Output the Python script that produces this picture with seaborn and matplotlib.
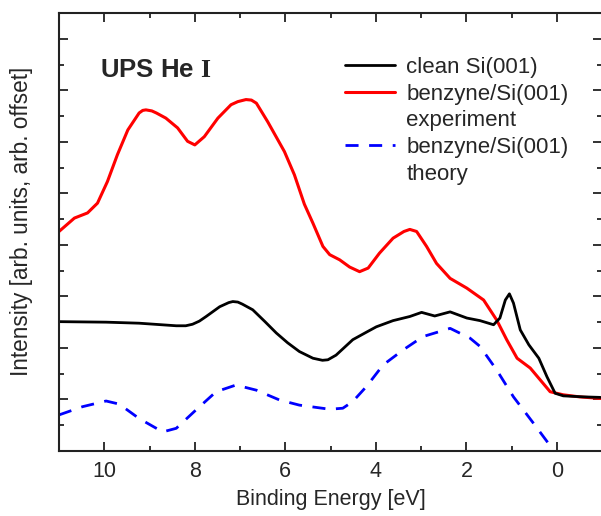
import pandas as pd
import matplotlib
matplotlib.use("Agg")
import matplotlib.pyplot as plt
import seaborn as sns
from matplotlib.lines import Line2D
from matplotlib.ticker import MultipleLocator

# binding energy [eV] vs intensity (arb.)
clean_e = [11.0, 9.96, 9.23, 8.41, 8.2, 8.05, 7.9, 7.75, 7.45, 7.25, 7.16, 7.05, 6.95,
           6.72, 6.45, 6.20, 5.95, 5.69, 5.39, 5.18, 5.06, 4.88, 4.51, 4.2, 3.99, 3.62,
           3.25, 2.99, 2.70, 2.36, 1.99, 1.70, 1.40, 1.26, 1.14, 1.05, 0.96, 0.81, 0.62,
           0.40, 0.22, 0.04, -0.14, -0.59, -0.96]
clean_i = [2.51, 2.50, 2.48, 2.43, 2.43, 2.46, 2.52, 2.61, 2.80, 2.88, 2.90, 2.89, 2.85,
           2.74, 2.51, 2.29, 2.10, 1.93, 1.80, 1.76, 1.77, 1.86, 2.16, 2.31, 2.41, 2.53,
           2.61, 2.69, 2.62, 2.70, 2.58, 2.53, 2.45, 2.58, 2.93, 3.05, 2.87, 2.35, 2.06,
           1.80, 1.44, 1.12, 1.07, 1.05, 1.04]

exp_e = [11.0, 10.66, 10.37, 10.15, 9.93, 9.71, 9.48, 9.23, 9.15, 9.08, 8.95, 8.85, 8.64,
         8.38, 8.16, 8.0, 7.79, 7.49, 7.20, 7.05, 6.87, 6.75, 6.64, 6.39, 6.02, 5.80,
         5.58, 5.39, 5.17, 5.02, 4.80, 4.58, 4.36, 4.17, 3.92, 3.62, 3.38, 3.25, 3.10,
         2.88, 2.66, 2.36, 1.99, 1.62, 1.33, 1.11, 0.88, 0.59, 0.37, 0.15, -0.14, -0.5,
         -0.96]
exp_i = [4.26, 4.52, 4.62, 4.81, 5.23, 5.75, 6.23, 6.56, 6.61, 6.62, 6.60, 6.56, 6.46,
         6.27, 6.01, 5.94, 6.10, 6.46, 6.72, 6.78, 6.82, 6.81, 6.75, 6.39, 5.81, 5.36,
         4.79, 4.42, 3.97, 3.81, 3.71, 3.57, 3.48, 3.55, 3.84, 4.13, 4.26, 4.30, 4.26,
         3.97, 3.64, 3.35, 3.16, 2.93, 2.54, 2.16, 1.80, 1.61, 1.38, 1.15, 1.09, 1.05,
         1.02]

theo_e = [11.0, 10.48, 9.96, 9.67, 9.23, 8.71, 8.41, 7.97, 7.53, 7.09, 6.64, 6.13,
          5.69, 5.02, 4.73, 4.51, 4.21, 3.84, 3.40, 2.96, 2.36, 1.92, 1.70, 1.33,
          0.96, 0.52, 0.08, -0.1]
theo_i = [0.70, 0.86, 0.97, 0.91, 0.63, 0.37, 0.44, 0.80, 1.15, 1.28, 1.18, 0.99,
          0.89, 0.81, 0.83, 0.96, 1.25, 1.67, 1.96, 2.22, 2.38, 2.19, 2.03, 1.57,
          1.05, 0.54, 0.02, -0.2]

sns.set_style("ticks")
plt.rcParams["font.family"] = ["Liberation Sans", "DejaVu Sans"]
plt.rcParams["mathtext.fontset"] = "custom"
plt.rcParams["mathtext.bf"] = "Liberation Serif:bold"

fig = plt.figure(figsize=(6.01, 5.16), dpi=100)
ax = fig.add_axes([0.0982, 0.126, 0.9038, 0.8488])

dash = (0, (4.7, 3.8))
sns.lineplot(x=exp_e, y=exp_i, ax=ax, color="#ff0000", lw=2.2, sort=False)
sns.lineplot(x=clean_e, y=clean_i, ax=ax, color="black", lw=2.0, sort=False)
sns.lineplot(x=theo_e, y=theo_i, ax=ax, color="#0000ff", lw=2.0, sort=False,
             linestyle=dash)

ax.set_xlim(11, -1)
ax.set_ylim(0, 8.5)
ax.xaxis.set_major_locator(MultipleLocator(2))
ax.xaxis.set_minor_locator(MultipleLocator(1))
ax.yaxis.set_major_locator(MultipleLocator(1))
ax.yaxis.set_minor_locator(MultipleLocator(0.5))
ax.set_yticklabels([])
ax.tick_params(which="both", direction="in", top=True, right=True, width=1.3,
               color="#222222", labelsize=15.5, pad=7)
ax.tick_params(which="major", length=6.5)
ax.tick_params(which="minor", length=3.5)
for s in ax.spines.values():
    s.set_linewidth(1.5)
    s.set_color("#222222")

ax.set_xlabel("Binding Energy [eV]", fontsize=15.5, labelpad=5.5)
ax.set_ylabel("Intensity [arb. units, arb. offset]", fontsize=16.3)
ax.yaxis.set_label_coords(-0.048, 0.524)

ax.text(0.0755, 0.854, r"UPS He $\mathbf{I}$", transform=ax.transAxes,
        fontsize=18.5, fontweight="bold", va="baseline")

blank = Line2D([], [], color="none")
handles = [Line2D([], [], color="black", lw=2.0),
           Line2D([], [], color="#ff0000", lw=2.2),
           blank,
           Line2D([], [], color="#0000ff", lw=2.0, linestyle=dash),
           blank]
labels = ["clean Si(001)", "benzyne/Si(001)", "experiment", "benzyne/Si(001)", "theory"]
ax.legend(handles, labels, loc="upper left", bbox_to_anchor=(0.527, 0.900),
          frameon=False, fontsize=16, handlelength=2.25, handletextpad=0.5,
          labelspacing=0.26, borderpad=0, borderaxespad=0)

fig.savefig("out.png", dpi=100)
